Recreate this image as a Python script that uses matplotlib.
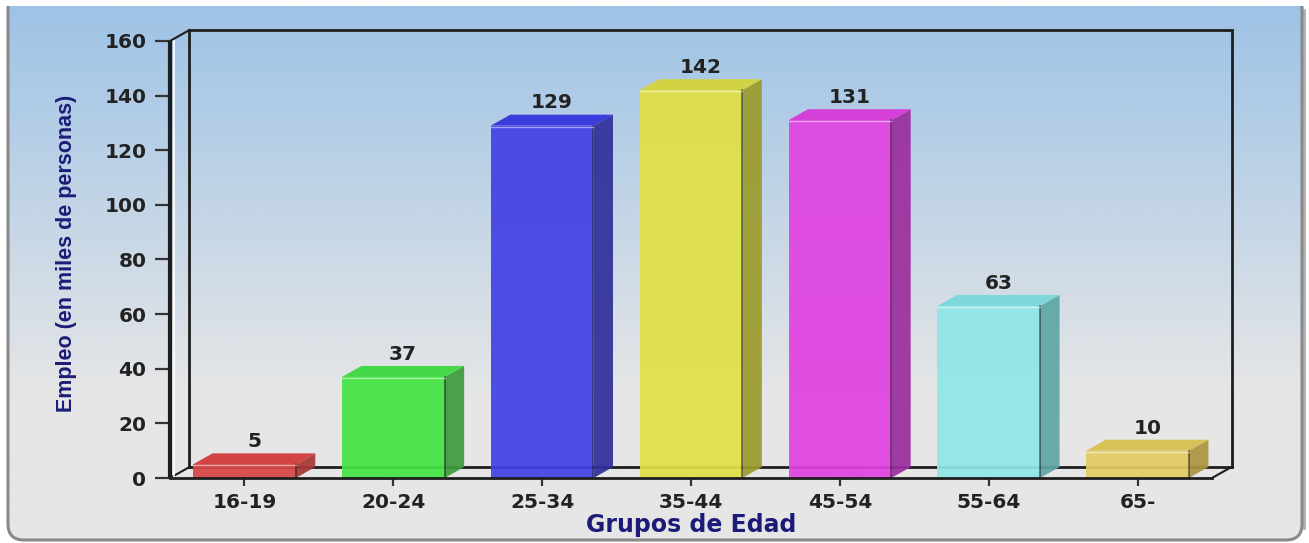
import numpy as np
import matplotlib
matplotlib.use("Agg")
import matplotlib.pyplot as plt
from matplotlib.patches import Polygon, FancyBboxPatch, Rectangle
from matplotlib.colors import to_rgb

# ---------------- data ----------------
categories = ["16-19", "20-24", "25-34", "35-44", "45-54", "55-64", "65-"]
values = [5, 37, 129, 142, 131, 63, 10]
y_ticks = [0, 20, 40, 60, 80, 100, 120, 140, 160]
x_label = "Grupos de Edad"
y_label = "Empleo (en miles de personas)"

front_colors = ["#d94545", "#45e445", "#4242e4", "#e0e045", "#e043e0", "#90e6e8", "#e2cc62"]
side_colors = ["#a83838", "#3e9c3e", "#30309a", "#9c9c2e", "#9c2e9e", "#5ea6a6", "#ac9440"]
top_colors = ["#d23a3a", "#3ed83e", "#3434dc", "#d4d43c", "#d838d8", "#7ad8da", "#d8c050"]

W, H = 1309, 543
fig = plt.figure(figsize=(W / 100, H / 100), dpi=100)
fig.patch.set_facecolor("white")

# ---------------- background panel ----------------
bg = fig.add_axes([0, 0, 1, 1], zorder=-5)
bg.set_xlim(0, W)
bg.set_ylim(H, 0)
bg.axis("off")
top_c = np.array(to_rgb("#9ec3e6"))
bot_c = np.array(to_rgb("#e6e6e6"))
ys = np.linspace(0, 1, 400)
t = np.clip((ys * (540 - 6)) / 390.0, 0, 1)[:, None]
grad = top_c * (1 - t) + bot_c * t
grad = np.repeat(grad[:, None, :], 2, axis=1)
panel = FancyBboxPatch((8, -40), 1294, 580, boxstyle="round,pad=0,rounding_size=16",
                       facecolor="none", edgecolor="#8a8a8a", lw=2.2, zorder=3)
bg.add_patch(panel)
im = bg.imshow(grad, extent=(8, 1302, 540, 6), aspect="auto", zorder=1)
im.set_clip_path(panel)
# right shadow
bg.plot([1304, 1304], [10, 528], color="#b0b0b0", lw=2, zorder=2)
bg.add_patch(Rectangle((0, 0), W, 6, facecolor="white", edgecolor="none", zorder=4))

# ---------------- main axes ----------------
ax = fig.add_axes([170 / W, 65 / H, 1042 / W, 437 / H])
ax.set_xlim(-0.5, len(categories) - 0.5)
ax.set_ylim(0, 160)
ax.patch.set_alpha(0)
for s in ax.spines.values():
    s.set_visible(False)

px_cat = 1042 / len(categories)
px_unit = 437 / 160
DX = 19.5 / px_cat
DY = 11 / px_unit

x = np.arange(len(categories))
dark = "#1e1e1e"
x0, x1 = -0.5, len(categories) - 0.5

# back wall & floor (behind bars)
ax.plot([x0 + DX, x0 + DX, x1 + DX, x1 + DX], [DY, 160 + DY, 160 + DY, DY],
        color=dark, lw=2, clip_on=False, zorder=1, solid_joinstyle="miter")
ax.plot([x0 + DX, x1 + DX], [DY, DY], color=dark, lw=2, clip_on=False, zorder=1)
ax.plot([x0, x0 + DX], [160, 160 + DY], color=dark, lw=1.5, clip_on=False, zorder=1)
ax.plot([x0, x0 + DX], [0, DY], color=dark, lw=1.5, clip_on=False, zorder=1)
ax.plot([x1, x1 + DX], [0, DY], color=dark, lw=1.5, clip_on=False, zorder=1)
ax.plot([x0 + 4 / px_cat] * 2, [0.5, 160], color="white", lw=1.2, clip_on=False, zorder=1)

# bars
bars = ax.bar(x, values, width=0.69, color=front_colors, alpha=0.93, zorder=3, clip_on=False)
for b, sc, tc, fc, v in zip(bars, side_colors, top_colors, front_colors, values):
    bx0 = b.get_x()
    bx1 = bx0 + b.get_width()
    h = b.get_height()
    side = Polygon([(bx1, 0), (bx1 + DX, DY), (bx1 + DX, h + DY), (bx1, h)],
                   closed=True, facecolor=sc, edgecolor="none", alpha=0.93, zorder=3, clip_on=False)
    top = Polygon([(bx0, h), (bx1, h), (bx1 + DX, h + DY), (bx0 + DX, h + DY)],
                  closed=True, facecolor=tc, edgecolor="none", alpha=0.95, zorder=3, clip_on=False)
    ax.add_patch(side)
    ax.add_patch(top)
    ax.plot([bx1, bx1], [0, h], color="#202020", lw=1.2, alpha=0.6, zorder=4, clip_on=False)
    ax.plot([bx0, bx1], [h - 0.4, h - 0.4], color="white", lw=1, alpha=0.5, zorder=4, clip_on=False)
    ax.text(b.get_x() + b.get_width() / 2 + DX / 2, h + DY + 0.8, str(v),
            ha="center", va="bottom", fontsize=14.5, fontweight="bold",
            color="#222222", zorder=5, clip_on=False)

# front axis lines
ax.plot([x0, x0], [0, 160], color=dark, lw=3, clip_on=False, zorder=5, solid_capstyle="butt")
ax.plot([x0, x1], [0, 0], color=dark, lw=2, clip_on=False, zorder=5)

ax.set_yticks(y_ticks)
ax.set_yticklabels([str(v) for v in y_ticks])
ax.set_xticks(x)
ax.set_xticklabels(categories)
ax.tick_params(axis="y", length=11, width=1.6, color="#333333", pad=6,
               labelsize=14.5, labelcolor="#222222")
ax.tick_params(axis="x", length=6, width=1.6, color="#333333", pad=5,
               labelsize=14.5, labelcolor="#222222")
for lab in ax.get_xticklabels() + ax.get_yticklabels():
    lab.set_fontweight("bold")

fig.text(691 / W, 1 - 525 / H, x_label, ha="center", va="center",
         fontsize=17, fontweight="bold", color="#1c1c78")
fig.text(67 / W, 1 - 253 / H, y_label, ha="center", va="center", rotation=90,
         fontsize=15.5, fontweight="bold", color="#1c1c78",
         family=["Liberation Sans", "DejaVu Sans"])

fig.savefig("out.png", dpi=100)
